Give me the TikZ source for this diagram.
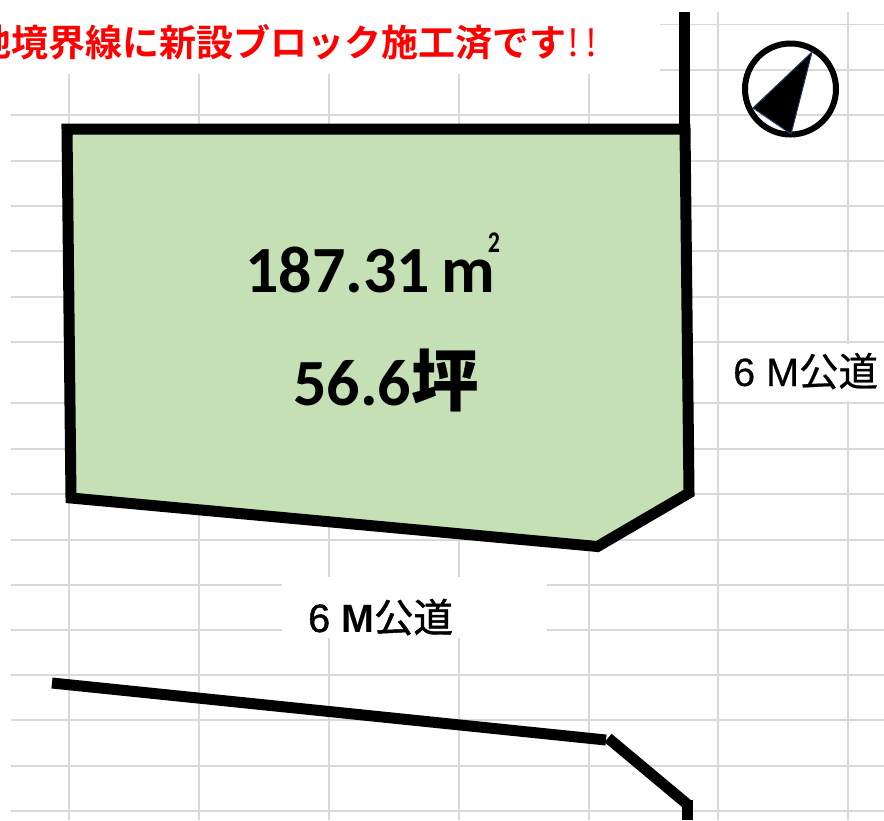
\documentclass[tikz,border=0pt]{standalone}
\usepackage{fontspec}
\setmainfont{Carlito}
\newfontfamily\jpbold{Noto Sans CJK JP Bold}
\newfontfamily\jpnorm[FakeBold=0.5]{Noto Sans CJK JP}
\newfontfamily\jpthin{Noto Sans CJK JP}
\newfontfamily\jpmed[FakeBold=1.2]{Noto Sans CJK JP}
\newfontfamily\jpsemi[FakeBold=0.4]{Noto Sans CJK JP}
\newfontfamily\arialnorm[FakeBold=0.5]{Liberation Sans}
\newfontfamily\arialbold{Liberation Sans Bold}
\newfontfamily\arialmed[FakeBold=1.2]{Liberation Sans}
\usepackage{tikz}
\definecolor{lotgreen}{RGB}{197, 224, 180}
\definecolor{gridgray}{RGB}{217, 217, 217}
\definecolor{titlered}{RGB}{255, 0, 0}
\definecolor{needleblue}{RGB}{31, 56, 100}
\tikzset{
    gridline/.style={gridgray, line width=1.5pt},
    parcelline/.style={black, line width=11pt, miter limit=10},
    roadline/.style={black, line width=11pt},
    roadlabel/.style={anchor=base west, inner sep=0pt, font=\fontsize{39.5}{39.5}\selectfont},
    arealabel/.style={anchor=base west, inner sep=0pt, font=\fontsize{66}{66}\selectfont\bfseries}
}
\begin{document}
\begin{tikzpicture}[x=1pt, y=-1pt]
            \useasboundingbox (0,0) rectangle (884,820);
            \draw[gridline] ( 69, 74) -- ( 69,820);
            \draw[gridline] (199, 74) -- (199,820);
            \draw[gridline] (329, 74) -- (329,820);
            \draw[gridline] (459, 74) -- (459,820);
            \draw[gridline] (589, 74) -- (589,820);
            \draw[gridline] (718, 12) -- (718,820);
            \draw[gridline] (848, 12) -- (848,820);
            \draw[gridline] (660, 24.5) -- (884, 24.5);
            \draw[gridline] (660, 70) -- (884, 70);
            \draw[gridline] ( 11,115) -- (884,115);
            \draw[gridline] ( 11,161) -- (884,161);
            \draw[gridline] ( 11,206) -- (884,206);
            \draw[gridline] ( 11,251) -- (884,251);
            \draw[gridline] ( 11,297) -- (884,297);
            \draw[gridline] ( 11,342) -- (884,342);
            \draw[gridline] ( 11,403) -- (884,403);
            \draw[gridline] ( 11,449) -- (884,449);
            \draw[gridline] ( 11,494) -- (884,494);
            \draw[gridline] ( 11,540) -- (884,540);
            \draw[gridline] ( 11,585) -- (884,585);
            \draw[gridline] ( 11,630) -- (884,630);
            \draw[gridline] ( 11,675) -- (884,675);
            \draw[gridline] ( 11,720) -- (884,720);
            \draw[gridline] ( 11,766) -- (884,766);
            \draw[gridline] ( 11,811) -- (884,811);
            \fill[white] (282,577) rectangle (547,638);
            \fill[white] (725,344) rectangle (884,401);
            \filldraw[parcelline, fill=lotgreen] (67,129) -- (685,129) -- (689,493) -- (597.5,546.5) -- (71,498) -- cycle;
            \draw[parcelline] (684,12) -- (684,129);
            \draw[roadline] (52,683) -- (606,740);
            \draw[roadline] (608,738) -- (687,804);
            \draw[roadline] (687,800) -- (687,820);
            \draw[black, line width=6pt] (790.5,89) circle (45.5);
            \filldraw[needleblue, fill=black, line width=1pt] (812,52) -- (753,108) -- (791,134) -- cycle;
            \node[anchor=base east, inner sep=0pt, text=titlered, font=\fontsize{37}{37}\selectfont] (titletext) at (598,56) {{\jpbold 地境界線に新設ブロック施工済です}{\jpthin\kern1pt !\kern6pt!}};
            \node[arealabel] (areasqm) at (245,292) {187.31\,m\hspace{-7pt}\raisebox{40pt}{\fontsize{30}{30}\selectfont\scalebox{0.8}[1]{2}}};
            \node[arealabel] (areatsubo) at (293,405) {56.6{\jpsemi\fontsize{67}{67}\selectfont 坪}};
            \node[roadlabel] (roadsouth) at (308,632) {{\arialmed 6 }{\arialbold M}{\jpmed 公道}};
            \node[roadlabel] (roadeast) at (733,386) {{\arialnorm 6 M}{\jpnorm 公道}};
\end{tikzpicture}
\end{document}
